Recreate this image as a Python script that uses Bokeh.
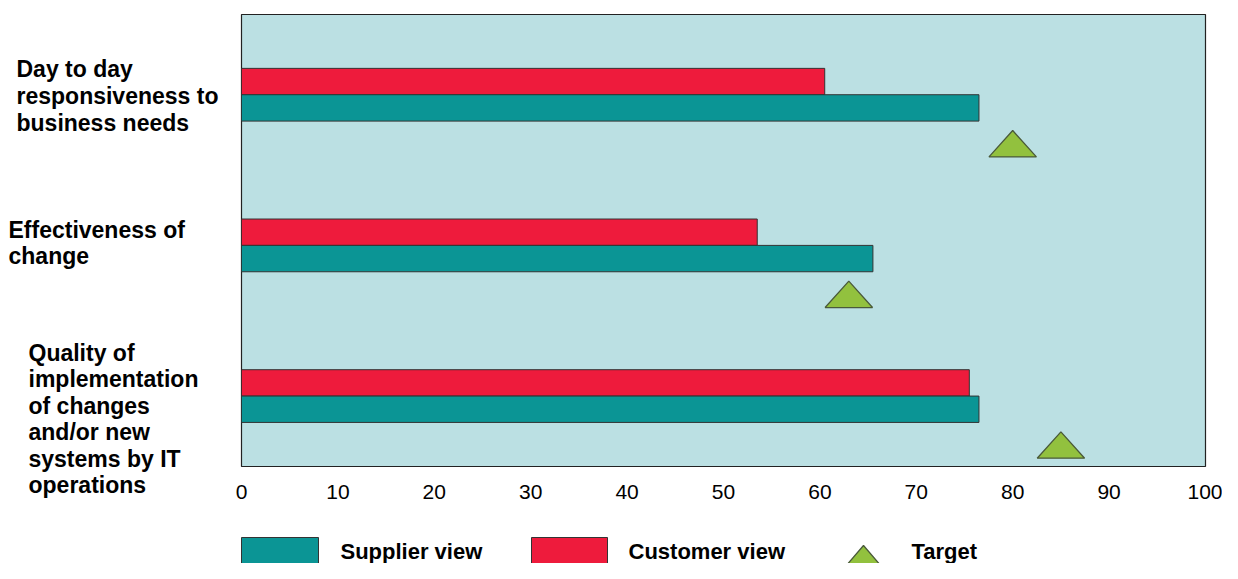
import numpy as np
from bokeh.plotting import figure
from bokeh.models import Range1d, ColumnDataSource, FixedTicker
from bokeh.layouts import column, row
from bokeh.core.properties import value
from bokeh.embed import file_html
from bokeh.resources import INLINE

# ---------------- data ----------------
categories = [
    "Day to day\nresponsiveness to\nbusiness needs",
    "Effectiveness of\nchange",
    "Quality of\nimplementation\nof changes\nand/or new\nsystems by IT\noperations",
]
supplier_view = [76.5, 65.5, 76.5]
customer_view = [60.5, 53.5, 75.5]
target = [80, 63, 85]
x_ticks = [0, 10, 20, 30, 40, 50, 60, 70, 80, 90, 100]
series_names = ["Supplier view", "Customer view", "Target"]

TEAL = "#0B9595"
RED = "#EE1B3C"
BG = "#BBE0E3"
GREEN = "#92C13E"
FONT = "Liberation Sans"

MAIN_H = 520
TOP = 14
BOTTOM = 54
N = len(categories)

idx = np.arange(N)
bar_h = 0.175
src = ColumnDataSource(dict(
    cust_y=idx + 0.445,
    supp_y=idx + 0.62,
    customer=customer_view,
    supplier=supplier_view,
))

# ---------------- category label panel (pixel coordinates) ----------------
lab = figure(width=233, height=MAIN_H, output_backend="svg", toolbar_location=None,
             x_range=Range1d(0, 233), y_range=Range1d(MAIN_H, 0),
             min_border_left=0, min_border_right=0, min_border_top=0,
             min_border_bottom=0, frame_align=False)
lab.axis.visible = False
lab.grid.visible = False
lab.outline_line_color = None
lab.background_fill_color = "white"
lab.border_fill_color = "white"
lab.text(x=[16, 8, 28], y=[95.5, 242.5, 418.5], text=categories,
         text_font=value(FONT), text_font_size="23px", text_font_style="bold",
         text_align="left", text_baseline="middle", text_line_height=1.02,
         text_color="black")

# ---------------- main plot ----------------
p = figure(width=989, height=MAIN_H, output_backend="svg", toolbar_location=None,
           x_range=Range1d(0, 100), y_range=Range1d(N, 0),
           min_border_left=8, min_border_right=17, min_border_top=TOP,
           min_border_bottom=BOTTOM)
p.background_fill_color = BG
p.border_fill_color = "white"
p.outline_line_color = "#222222"
p.outline_line_width = 1.2
p.xgrid.visible = False
p.ygrid.visible = False
p.yaxis.visible = False

p.hbar(y="cust_y", left=0, right="customer", height=bar_h, source=src,
       fill_color=RED, line_color="#333333", line_width=1)
p.hbar(y="supp_y", left=0, right="supplier", height=bar_h, source=src,
       fill_color=TEAL, line_color="#333333", line_width=1)

half_w = 2.46
tri_xs = [[t - half_w, t, t + half_w] for t in target]
tri_ys = [[i + 0.945, i + 0.77, i + 0.945] for i in idx]
p.patches(xs=tri_xs, ys=tri_ys, fill_color=GREEN, line_color="#4A5A3A", line_width=1.3)

ax = p.xaxis[0]
ax.ticker = FixedTicker(ticks=x_ticks)
ax.axis_line_color = None
ax.major_tick_line_color = None
ax.minor_tick_line_color = None
ax.major_label_standoff = 12
ax.major_label_text_font = FONT
ax.major_label_text_font_size = "21px"
ax.major_label_text_color = "black"

# ---------------- legend strip ----------------
lg = figure(width=1222, height=43, output_backend="svg", toolbar_location=None,
            x_range=Range1d(0, 1222), y_range=Range1d(43, 0),
            min_border_left=0, min_border_right=0,
            min_border_top=0, min_border_bottom=0)
lg.axis.visible = False
lg.grid.visible = False
lg.outline_line_color = None
lg.background_fill_color = "white"
lg.border_fill_color = "white"

lg.quad(left=[241, 531], right=[318, 607], top=[17, 17], bottom=[52, 52],
        fill_color=[TEAL, RED], line_color="#333333", line_width=1)
lg.patches(xs=[[839, 863, 887]], ys=[[53, 25, 53]], fill_color=GREEN,
           line_color="#4A5A3A", line_width=1.3)
lg.text(x=[340, 628, 911], y=[31, 31, 31], text=series_names,
        text_font=value(FONT), text_font_size="22px", text_font_style="bold",
        text_baseline="middle", text_align="left", text_color="black")

layout = column(row(lab, p, spacing=0), lg, spacing=0)
open("out.html", "w").write(file_html(layout, INLINE))
